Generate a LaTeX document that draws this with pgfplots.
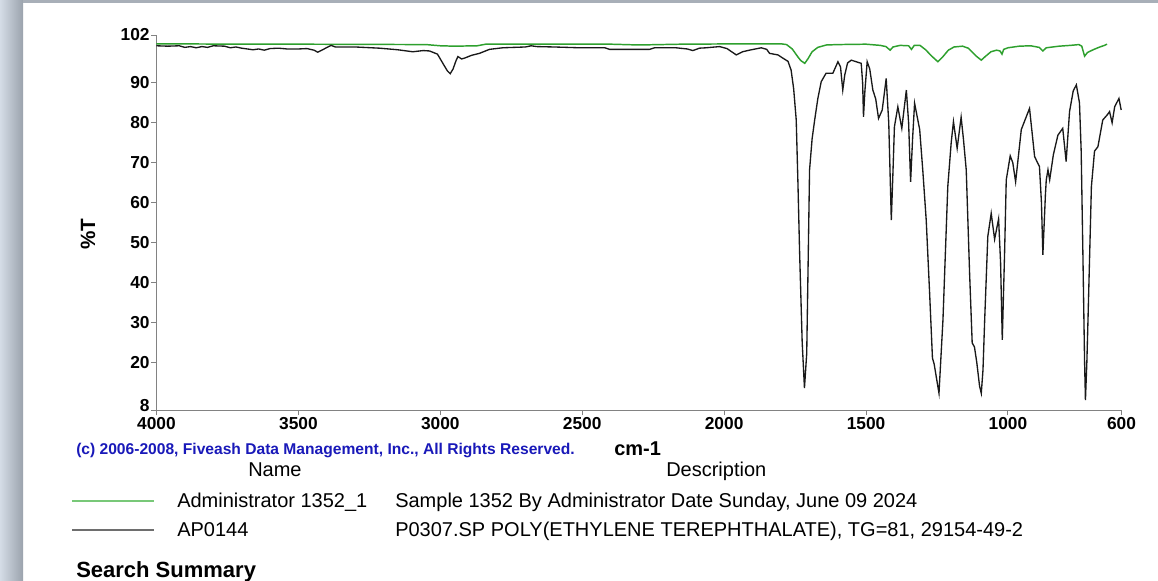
\documentclass[border=0pt]{standalone}
\usepackage{pgfplots}
\pgfplotsset{compat=1.18}
\usepackage{pgfplotstable}
\usepackage{fontspec}
\setmainfont{Liberation Sans}
\definecolor{spgreen}{RGB}{46,160,46}
\definecolor{spblack}{RGB}{25,25,25}
\definecolor{cblue}{RGB}{25,25,185}
\definecolor{leggreen}{RGB}{120,200,120}
\definecolor{leggray}{RGB}{110,110,110}
\definecolor{axgray}{RGB}{130,130,130}
\definecolor{frameA}{RGB}{212,220,230}
\definecolor{frameB}{RGB}{155,163,173}
\definecolor{frameT}{RGB}{168,175,184}

\pgfplotstableread{
w T
4000 99.3
3960 99.2
3920 99.3
3900 98.9
3880 99.1
3860 98.8
3840 99.1
3820 98.9
3800 99.3
3760 99.2
3740 98.8
3720 99.0
3700 98.7
3680 98.5
3660 98.3
3640 98.5
3620 98.2
3600 98.6
3570 98.7
3540 98.5
3500 98.5
3470 98.6
3445 98.2
3432 97.7
3415 98.3
3385 99.4
3370 99.0
3300 99.0
3214 98.7
3150 98.3
3097 97.8
3060 98.1
3038 98.0
3010 97.2
2991 94.9
2975 93.0
2965 92.3
2955 93.5
2945 95.5
2938 96.6
2925 96.0
2915 96.2
2890 96.9
2862 97.4
2827 98.4
2780 98.8
2700 99.0
2680 99.3
2660 99.1
2600 99.0
2510 98.8
2420 98.8
2404 98.4
2300 98.4
2263 98.4
2245 98.8
2170 98.8
2130 98.5
2110 98.1
2087 98.7
2063 98.8
2016 99.1
1990 98.6
1957 97.0
1935 97.8
1911 98.2
1869 98.8
1850 98.4
1840 97.4
1810 97.0
1793 96.2
1775 95.4
1764 93.2
1755 88.5
1746 80.7
1740 65.0
1734 47.3
1725 25.0
1717 13.5
1709 22.2
1704 45.0
1699 68.2
1690 76.0
1681 80.7
1670 86.0
1658 90.3
1641 92.4
1617 92.4
1599 95.3
1590 94.0
1582 88.2
1575 92.0
1565 95.0
1552 95.7
1535 95.3
1517 94.9
1512 90.0
1509 81.5
1504 88.0
1496 95.3
1487 93.5
1476 88.2
1466 86.0
1456 81.1
1443 83.2
1429 91.1
1420 80.0
1411 55.6
1405 68.0
1400 79.0
1388 84.0
1374 78.6
1358 88.2
1350 80.0
1343 65.2
1336 76.0
1329 84.9
1311 78.3
1300 68.0
1288 55.6
1276 37.3
1266 21.0
1260 19.5
1243 12.2
1229 30.6
1212 64.0
1200 75.0
1192 80.3
1179 73.6
1165 81.4
1157 76.0
1147 68.2
1135 42.0
1126 24.8
1118 23.8
1110 20.0
1100 14.0
1094 12.2
1088 18.0
1082 30.6
1071 51.5
1059 57.3
1047 50.8
1033 55.9
1026 45.0
1020 25.6
1012 47.0
1006 65.7
992 71.7
983 70.0
973 65.2
953 78.3
924 83.6
906 71.5
889 69.0
882 60.0
877 46.9
868 62.0
865 65.7
859 68.2
853 65.7
840 72.0
824 76.9
807 78.6
795 70.3
783 82.8
770 88.0
759 89.5
748 85.0
742 72.9
736 47.3
730 20.0
727 10.5
722 20.0
718 30.6
706 64.0
695 72.9
683 74.0
666 80.7
650 82.0
642 82.8
633 80.0
624 84.0
609 86.1
601 83.2
}\refdata

\pgfplotstableread{
w T
4000 99.8
3700 99.7
3500 99.7
3050 99.6
3000 99.3
2950 99.2
2870 99.3
2840 99.7
2400 99.7
2300 99.5
2150 99.7
1900 99.8
1800 99.8
1780 99.6
1760 98.5
1740 96.5
1730 95.6
1716 94.9
1705 96.0
1690 97.8
1670 98.9
1640 99.5
1600 99.6
1500 99.7
1450 99.4
1430 99.1
1415 98.2
1405 99.0
1380 99.4
1350 99.3
1340 98.4
1330 99.4
1310 99.4
1290 98.3
1270 96.8
1247 95.3
1230 96.5
1210 98.2
1190 99.0
1160 99.2
1140 98.7
1110 96.6
1094 95.7
1080 96.6
1060 97.8
1040 98.2
1028 98.0
1021 97.2
1015 98.4
1000 98.8
960 99.2
920 99.3
890 98.9
877 98.0
865 98.8
820 99.2
780 99.4
750 99.6
740 99.2
730 96.7
720 97.6
700 98.3
680 98.9
660 99.4
651 99.7
}\sampledata

\begin{document}
\begin{tikzpicture}[x=0.75pt,y=-0.75pt]
\useasboundingbox (0,0) rectangle (1158,581);
\fill[white] (0,0) rectangle (1158,581);
\shade[left color=frameA, right color=frameB] (0,0) rectangle (23,581);
\fill[frameT] (23,0) rectangle (1158,3);

\begin{axis}[
  at={(117.375pt,-307.5pt)}, anchor=south west,
  scale only axis, width=723.75pt, height=281.25pt,
  xmin=600, xmax=4000, x dir=reverse,
  ymin=8, ymax=102,
  axis x line*=bottom, axis y line*=left,
  axis line style={draw=axgray, line width=0.7pt, -},
  xtick={4000,3500,3000,2500,2000,1500,1000,600},
  ytick={20,30,40,50,60,70,80,90,102},
  extra y ticks={8},
  extra y tick style={yticklabel style={yshift=3.5pt}},
  tick style={draw=axgray, line width=0.7pt},
  tick align=outside, major tick length=4pt,
  /pgf/number format/assume math mode=true,
  /pgf/number format/1000 sep={},
  ticklabel style={font=\bfseries\fontsize{13}{13}\selectfont, text=black},
  xticklabel style={inner sep=1pt},
  yticklabel style={inner sep=1pt},
  clip=false,
]
\addplot[spgreen, line width=1.1pt] table[x=w,y=T] {\sampledata};
\addplot[spblack, line width=1.0pt] table[x=w,y=T] {\refdata};
\end{axis}

\node[rotate=90, font=\bfseries\fontsize{15.5}{16}\selectfont] at (88,234) {\%T};
\node[anchor=base west, inner sep=0, text=cblue, font=\bfseries\fontsize{11.7}{12}\selectfont] at (76,454) {(c) 2006-2008, Fiveash Data Management, Inc., All Rights Reserved.};
\node[anchor=base west, inner sep=0, font=\bfseries\fontsize{15}{15}\selectfont] at (614,455) {cm-1};
\node[anchor=base west, inner sep=0, font=\fontsize{15}{15}\selectfont] at (248,476) {Name};
\node[anchor=base west, inner sep=0, font=\fontsize{15}{15}\selectfont] at (666,476) {Description};
\draw[leggreen, line width=1.4pt] (72,500.7) -- (154,500.7);
\draw[leggray, line width=1.1pt] (72,530) -- (154,530);
\node[anchor=base west, inner sep=0, font=\fontsize{15}{15}\selectfont] at (177,507) {Administrator 1352\_1};
\node[anchor=base west, inner sep=0, font=\fontsize{15}{15}\selectfont] at (395,507) {Sample 1352 By Administrator Date Sunday, June 09 2024};
\node[anchor=base west, inner sep=0, font=\fontsize{15}{15}\selectfont] at (177,536) {AP0144};
\node[anchor=base west, inner sep=0, font=\fontsize{15}{15}\selectfont] at (395,536) {P0307.SP POLY(ETHYLENE TEREPHTHALATE), TG=81, 29154-49-2};
\node[anchor=base west, inner sep=0, font=\bfseries\fontsize{16.5}{16.5}\selectfont] at (76,577) {Search Summary};
\end{tikzpicture}
\end{document}
